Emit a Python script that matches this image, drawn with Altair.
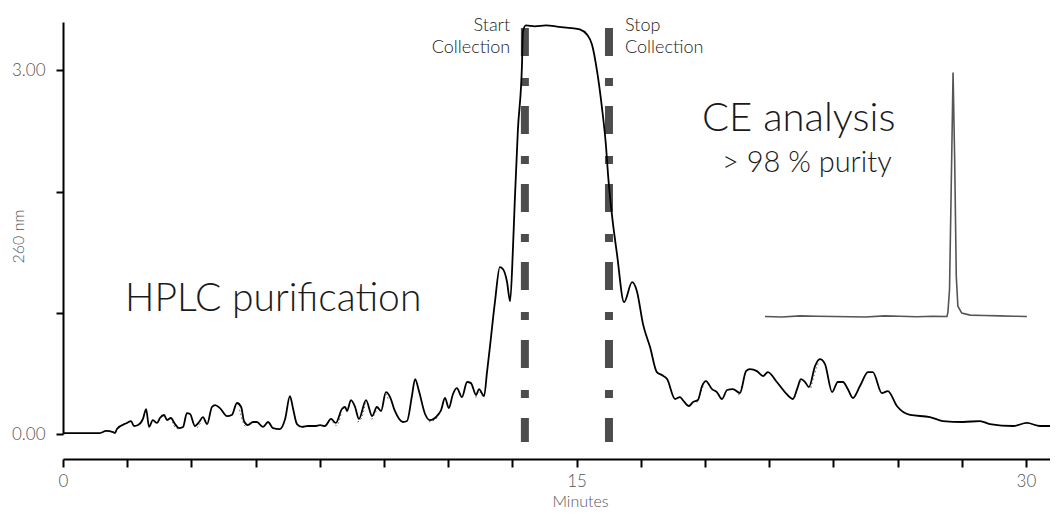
import altair as alt
import pandas as pd

# HPLC trace (minutes, absorbance at 260 nm)
hplc_min = [0.00, 1.15, 1.34, 1.56, 1.62, 1.68, 1.99, 2.12, 2.21, 2.34,
            2.49, 2.59, 2.68, 2.80, 2.93, 3.02, 3.15, 3.24, 3.36, 3.49,
            3.61, 3.74, 3.86, 3.96, 4.11, 4.24, 4.36, 4.49, 4.64, 4.74,
            4.89, 5.11, 5.26, 5.42, 5.55, 5.64, 5.76, 5.92, 6.04, 6.23,
            6.39, 6.54, 6.76, 6.92, 7.07, 7.17, 7.29, 7.45, 7.63, 7.85,
            8.01, 8.16, 8.35, 8.50, 8.69, 8.79, 8.85, 8.97, 9.10, 9.22,
            9.44, 9.63, 9.78, 9.91, 10.06, 10.19, 10.34, 10.59, 10.72, 10.87,
            10.97, 11.09, 11.28, 11.43, 11.65, 11.78, 11.90, 12.02, 12.15, 12.27,
            12.43, 12.59, 12.71, 12.87, 12.96, 13.12, 13.21, 13.30, 13.46, 13.61,
            13.71, 13.83, 13.93, 14.02, 14.08, 14.17, 14.30, 14.33, 14.42, 14.70,
            15.05, 15.45, 15.85, 16.10, 16.32, 16.48, 16.64, 16.79, 16.92, 16.98,
            17.10, 17.26, 17.48, 17.73, 17.88, 18.07, 18.29, 18.50, 18.66, 18.82,
            19.07, 19.22, 19.31, 19.50, 19.63, 19.78, 19.91, 20.03, 20.22, 20.37,
            20.53, 20.69, 20.87, 21.09, 21.28, 21.40, 21.62, 21.81, 21.96, 22.24,
            22.49, 22.74, 22.87, 22.99, 23.12, 23.24, 23.43, 23.58, 23.74, 23.96,
            24.14, 24.30, 24.45, 24.61, 24.83, 25.08, 25.23, 25.51, 25.70, 25.98,
            26.39, 27.01, 27.41, 28.04, 28.57, 28.88, 29.60, 30.03, 30.44, 30.75]
hplc_au = [0.008, 0.008, 0.025, 0.016, 0.008, 0.041, 0.091, 0.107, 0.066, 0.074,
           0.124, 0.206, 0.058, 0.115, 0.091, 0.132, 0.157, 0.115, 0.132, 0.082,
           0.049, 0.058, 0.173, 0.165, 0.066, 0.099, 0.140, 0.082, 0.223, 0.239,
           0.214, 0.148, 0.157, 0.256, 0.223, 0.107, 0.074, 0.099, 0.099, 0.058,
           0.099, 0.049, 0.041, 0.124, 0.313, 0.206, 0.082, 0.058, 0.066, 0.066,
           0.074, 0.066, 0.124, 0.091, 0.206, 0.223, 0.190, 0.280, 0.223, 0.124,
           0.280, 0.148, 0.223, 0.190, 0.346, 0.305, 0.190, 0.099, 0.107, 0.313,
           0.453, 0.354, 0.165, 0.115, 0.148, 0.198, 0.297, 0.214, 0.330, 0.379,
           0.305, 0.429, 0.420, 0.321, 0.371, 0.313, 0.511, 0.717, 1.096, 1.377,
           1.360, 1.261, 1.096, 1.542, 1.954, 2.498, 3.050, 3.322, 3.372, 3.364,
           3.372, 3.360, 3.350, 3.339, 3.298, 3.215, 2.993, 2.696, 2.366, 2.143,
           1.814, 1.484, 1.088, 1.253, 1.179, 0.907, 0.717, 0.511, 0.486, 0.453,
           0.289, 0.305, 0.280, 0.231, 0.264, 0.280, 0.396, 0.437, 0.371, 0.346,
           0.289, 0.363, 0.371, 0.338, 0.519, 0.536, 0.519, 0.478, 0.511, 0.429,
           0.346, 0.289, 0.371, 0.453, 0.429, 0.387, 0.561, 0.618, 0.577, 0.346,
           0.429, 0.429, 0.371, 0.297, 0.396, 0.511, 0.511, 0.338, 0.354, 0.231,
           0.157, 0.140, 0.107, 0.099, 0.107, 0.082, 0.066, 0.091, 0.066, 0.066]

# faint dotted second trace, visible only where it departs from the main one
dot_seg = ["a", "a", "a", "b", "b", "b", "c", "c", "c", "d", "d", "d",
           "e", "e", "e", "f", "f", "f", "g", "g", "g", "h", "h", "h",
           "i", "i", "i", "j", "j", "j", "k", "k", "k", "l", "l", "l",
           "m", "m", "m"]
dot_min = [3.40, 3.52, 3.64, 4.05, 4.15, 4.28, 5.50, 5.62, 5.72, 8.40, 8.52, 8.68,
           9.18, 9.30, 9.42, 9.62, 9.72, 9.80, 10.00, 10.06, 10.14, 11.40, 11.60, 11.80,
           12.86, 12.95, 13.10, 19.75, 19.85, 19.95, 21.05, 21.15, 21.25, 22.80, 22.92, 23.00,
           23.30, 23.42, 23.55]
dot_au = [0.10, 0.05, 0.04, 0.10, 0.05, 0.09, 0.20, 0.09, 0.05, 0.10, 0.07, 0.18,
          0.10, 0.13, 0.26, 0.12, 0.17, 0.21, 0.30, 0.33, 0.28, 0.10, 0.12, 0.20,
          0.30, 0.35, 0.30, 0.26, 0.33, 0.40, 0.32, 0.40, 0.50, 0.30, 0.40, 0.44,
          0.38, 0.50, 0.60]

# CE electropherogram inset (drawn in the same frame)
ce_min = [21.87, 22.40, 22.96, 23.50, 24.52, 25.00, 25.60, 26.07, 26.60, 27.10,
          27.54, 27.57, 27.62, 27.67, 27.73, 27.78, 27.83, 27.88, 28.00, 28.26,
          28.70, 29.19, 29.60, 30.03]
ce_au = [0.970, 0.965, 0.975, 0.972, 0.968, 0.966, 0.975, 0.972, 0.968, 0.972,
         0.970, 1.006, 1.195, 1.995, 2.984, 2.267, 1.303, 1.055, 0.998, 0.981,
         0.978, 0.975, 0.972, 0.970]

collect_min = [14.39, 17.01]
collect_top = [3.35, 3.35]
collect_bottom = [-0.065, -0.065]

x_ticks = [0, 2, 4, 6, 8, 10, 12, 14, 16, 18, 20, 22, 24, 26, 28, 30]
y_ticks = [0, 1, 2, 3]

hplc = pd.DataFrame({"t": hplc_min, "v": hplc_au})
dots = pd.DataFrame({"seg": dot_seg, "t": dot_min, "v": dot_au})
ce = pd.DataFrame({"t": ce_min, "v": ce_au})
rules = pd.DataFrame({"t": collect_min, "top": collect_top, "bottom": collect_bottom})

big_labels = pd.DataFrame({
    "t": [1.93, 19.91],
    "v": [1.014, 2.498],
    "label": ["HPLC purification", "CE analysis"],
    "size": [39, 40],
})
purity = pd.DataFrame({"t": [20.53], "v": [2.160], "label": ["> 98 % purity"]})
start_lbl = pd.DataFrame({"t": [13.93], "v": [3.322], "label": ["Start\nCollection"]})
stop_lbl = pd.DataFrame({"t": [17.51], "v": [3.322], "label": ["Stop\nCollection"]})

FONT = "Lato"
xs = alt.Scale(domain=[0, 30.75], nice=False, zero=False)
ys = alt.Scale(domain=[0, 3.4], nice=False)

xaxis = alt.Axis(
    values=x_ticks,
    labelExpr="datum.value == 0 ? '0' : datum.value == 16 ? '15' : datum.value == 30 ? '30' : ''",
    title="Minutes", offset=25, grid=False,
    tickSize=8, tickWidth=2, tickColor="black",
    domainColor="black", domainWidth=2,
    labelFont=FONT, labelFontSize=17, labelFontWeight=300, labelColor="#555555",
    labelPadding=6, labelOverlap=False, labelFlush=False,
    titleFont=FONT, titleFontSize=16, titleFontWeight=300, titleColor="#555555",
    titleX=517, titleY=47, titleBaseline="alphabetic",
)
yaxis = alt.Axis(
    values=y_ticks,
    labelExpr="datum.value == 0 || datum.value == 3 ? format(datum.value, '.2f') : ''",
    title="260 nm", grid=False,
    tickSize=7, tickWidth=2, tickColor="black",
    domainColor="black", domainWidth=2,
    labelFont=FONT, labelFontSize=17, labelFontWeight=300, labelColor="#555555",
    labelPadding=11, labelOverlap=False, labelFlush=False,
    titleFont=FONT, titleFontSize=16, titleFontWeight=300, titleColor="#555555",
    titleX=-45, titleY=214, titleBaseline="middle", titleAngle=270,
)

X = alt.X("t:Q", scale=xs, axis=xaxis)
Y = alt.Y("v:Q", scale=ys, axis=yaxis)

rule_layer = alt.Chart(rules).mark_rule(
    strokeWidth=8, color="#4d4d4d", strokeDash=[28, 22, 8, 20]
).encode(x=X, y=alt.Y("top:Q", scale=ys, axis=yaxis), y2="bottom:Q")

dot_layer = alt.Chart(dots).mark_line(
    color="#666666", strokeWidth=1, strokeDash=[1.5, 2.5], interpolate="monotone"
).encode(x=X, y=Y, detail="seg:N")

main_layer = alt.Chart(hplc).mark_line(
    color="black", strokeWidth=1.8, interpolate="monotone"
).encode(x=X, y=Y)

ce_layer = alt.Chart(ce).mark_line(
    color="#555555", strokeWidth=1.6
).encode(x=X, y=Y)

big_text = alt.Chart(big_labels).mark_text(
    align="left", baseline="alphabetic", font=FONT, fontWeight=300, color="#1a1a1a"
).encode(x=X, y=Y, text="label:N", size=alt.Size("size:Q", scale=None, legend=None))

purity_text = alt.Chart(purity).mark_text(
    align="left", baseline="alphabetic", font=FONT, fontWeight=300, fontSize=29, color="#1a1a1a"
).encode(x=X, y=Y, text="label:N")

start_text = alt.Chart(start_lbl).mark_text(
    align="right", baseline="alphabetic", font=FONT, fontSize=18, fontWeight=300,
    color="#222222", lineBreak="\n", lineHeight=22
).encode(x=X, y=Y, text="label:N")

stop_text = alt.Chart(stop_lbl).mark_text(
    align="left", baseline="alphabetic", font=FONT, fontSize=18, fontWeight=300,
    color="#222222", lineBreak="\n", lineHeight=22
).encode(x=X, y=Y, text="label:N")

chart = alt.layer(
    rule_layer, dot_layer, main_layer, ce_layer,
    big_text, purity_text, start_text, stop_text
).properties(
    width=987, height=412,
    background="white",
    autosize=alt.AutoSizeParams(type="none"),
    padding={"left": 55, "top": 14, "right": 0, "bottom": 74},
).configure_view(stroke=None)

chart.save("out.html", embed_options={"renderer": "svg", "actions": False})
